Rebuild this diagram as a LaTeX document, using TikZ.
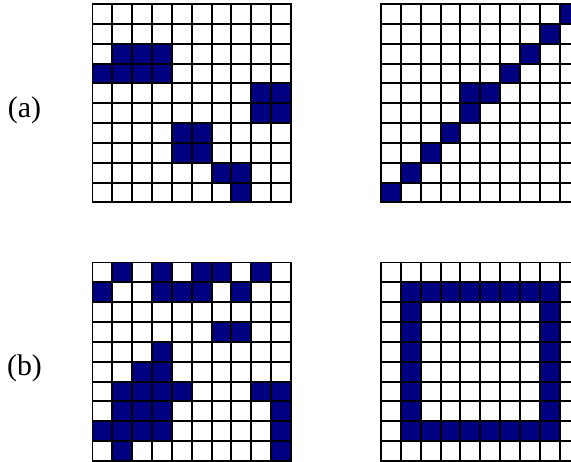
\documentclass[tikz,border=0pt]{standalone}
\usepackage{fontspec}
\setmainfont{Liberation Serif}
\usetikzlibrary{positioning}
\definecolor{marino}{RGB}{0,0,128}

\begin{document}
\begin{tikzpicture}[x=0.02cm,y=-0.02cm,
celda/.style={fill=marino},
rejilla/.style={draw=black,line width=1.1pt,line cap=rect},
etiq/.style={font=\fontsize{17}{20}\selectfont,inner sep=0pt}
]
\useasboundingbox (0,0) rectangle (571,462);
\clip (0,0) rectangle (571,462);
\node[etiq] (pa) at (24.5,110) {(a)};
\node[etiq] (pb) at (24.5,368) {(b)};
% (a) izquierda
\begin{scope}[shift={(92.5,4)},x=0.397cm,y=-0.397cm]
\foreach \f/\c in {2/1,2/2,2/3,3/0,3/1,3/2,3/3,4/8,4/9,5/8,5/9,6/4,6/5,7/4,7/5,8/6,8/7,9/7}
  \fill[celda] (\c,\f) rectangle ++(1,1);
\foreach \i in {0,...,10}{
  \draw[rejilla] (\i,0) -- (\i,10);
  \draw[rejilla] (0,\i) -- (10,\i);}
\end{scope}
% (a) derecha
\begin{scope}[shift={(381,4)},x=0.397cm,y=-0.397cm]
\foreach \f/\c in {0/9,1/8,2/7,3/6,4/4,4/5,5/4,6/3,7/2,8/1,9/0}
  \fill[celda] (\c,\f) rectangle ++(1,1);
\foreach \i in {0,...,10}{
  \draw[rejilla] (\i,0) -- (\i,10);
  \draw[rejilla] (0,\i) -- (10,\i);}
\end{scope}
% (b) izquierda
\begin{scope}[shift={(92.5,262.5)},x=0.397cm,y=-0.397cm]
\foreach \f/\c in {0/1,0/3,0/5,0/6,0/8,1/0,1/3,1/4,1/5,1/7,3/6,3/7,4/3,5/2,5/3,
  6/1,6/2,6/3,6/4,6/8,6/9,7/1,7/2,7/3,7/9,8/0,8/1,8/2,8/3,8/9,9/1,9/9}
  \fill[celda] (\c,\f) rectangle ++(1,1);
\foreach \i in {0,...,10}{
  \draw[rejilla] (\i,0) -- (\i,10);
  \draw[rejilla] (0,\i) -- (10,\i);}
\end{scope}
% (b) derecha
\begin{scope}[shift={(381,262.5)},x=0.397cm,y=-0.397cm]
\foreach \c in {1,...,8}{
  \fill[celda] (\c,1) rectangle ++(1,1);
  \fill[celda] (\c,8) rectangle ++(1,1);}
\foreach \f in {2,...,7}{
  \fill[celda] (1,\f) rectangle ++(1,1);
  \fill[celda] (8,\f) rectangle ++(1,1);}
\foreach \i in {0,...,10}{
  \draw[rejilla] (\i,0) -- (\i,10);
  \draw[rejilla] (0,\i) -- (10,\i);}
\end{scope}
\end{tikzpicture}
\end{document}
